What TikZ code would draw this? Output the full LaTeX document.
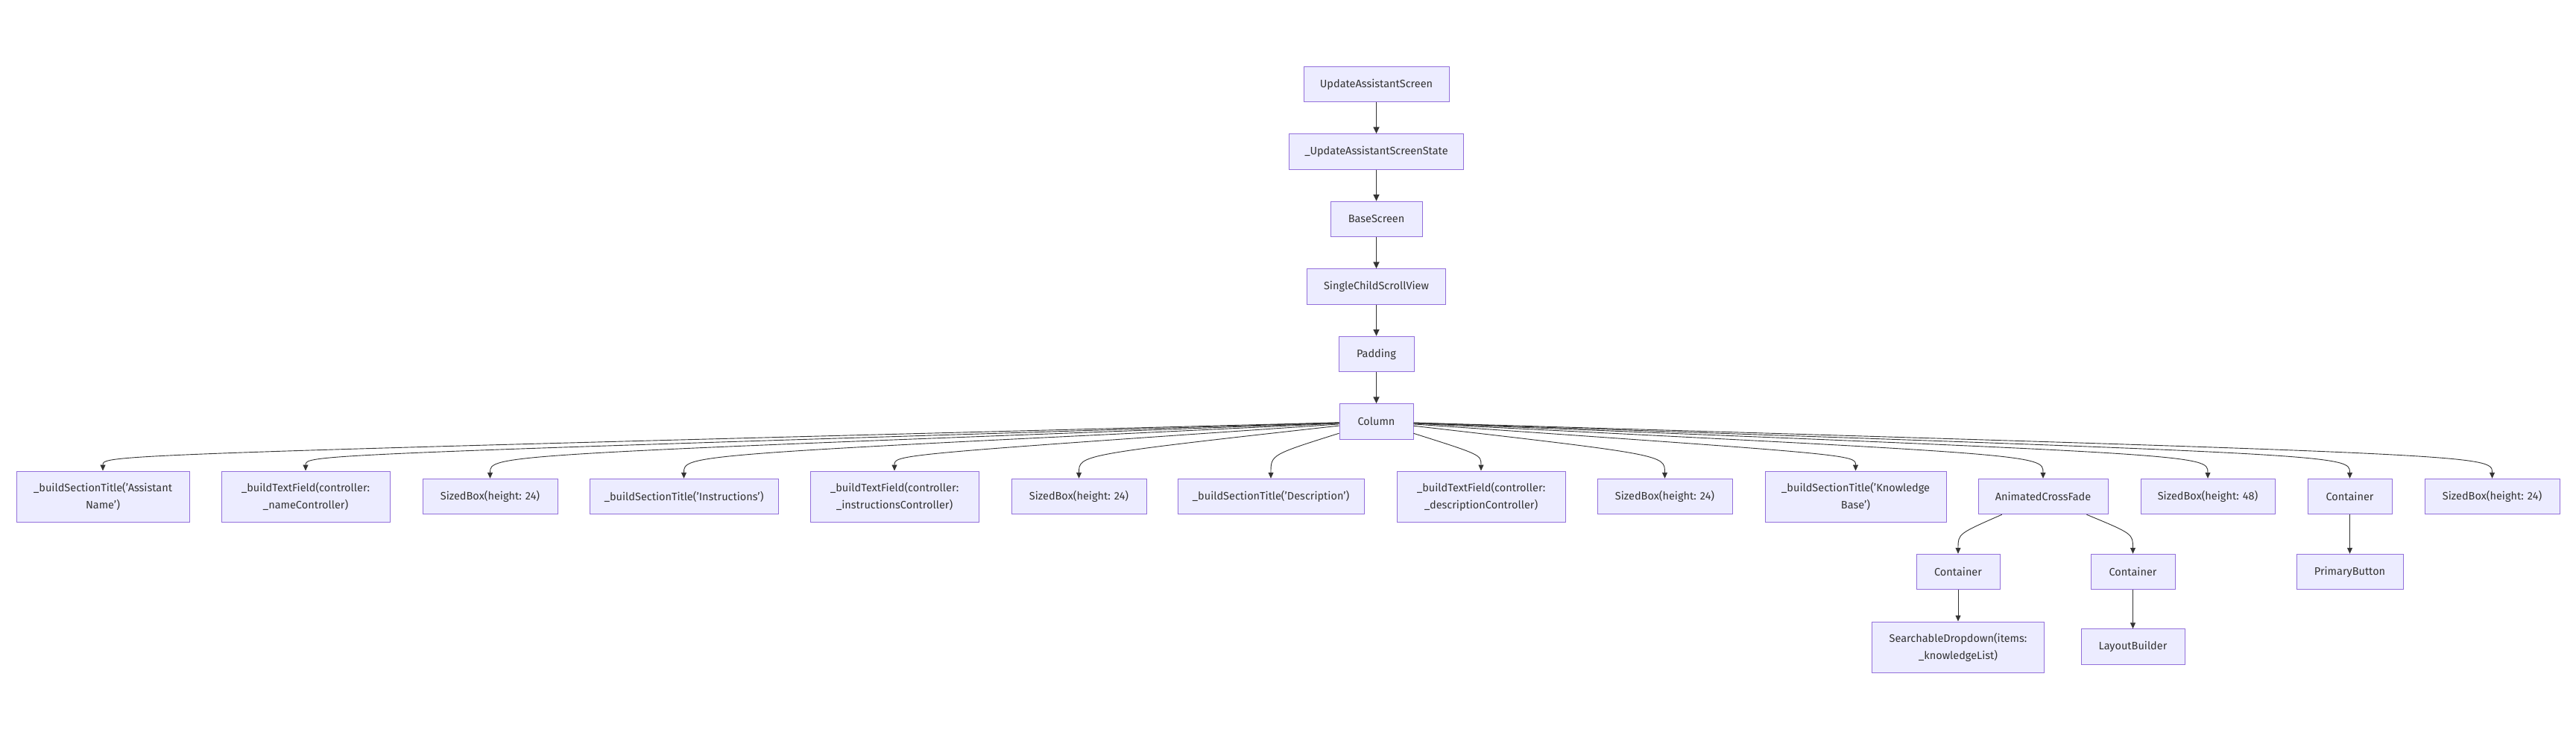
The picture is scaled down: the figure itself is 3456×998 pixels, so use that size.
\documentclass[tikz,border=0pt]{standalone}
\usepackage{fontspec}
\setmainfont{Fira Sans}
\usetikzlibrary{arrows.meta}
\definecolor{boxfill}{HTML}{ECECFF}
\definecolor{boxline}{HTML}{9370DB}
\definecolor{edgeline}{HTML}{333333}
\begin{document}
\begin{tikzpicture}[x=1pt, y=-1pt,
	widget/.style={draw=boxline, fill=boxfill, line width=1pt, inner sep=0pt,
		minimum height=47.5pt, align=center, text=edgeline,
		font=\fontsize{14.5}{23}\selectfont},
	tallwidget/.style={widget, minimum height=68pt},
	link/.style={draw=edgeline, line width=1.8pt, -{Triangle[length=9pt, width=8pt]}},
	branch/.style={draw=edgeline, line width=0.9pt, -{Triangle[length=8pt, width=7pt]}}]
	\useasboundingbox (0, 0) rectangle (3456, 998);
	\node[widget, minimum width=195] at (1846.5, 113) (uas) {UpdateAssistantScreen};
	\node[widget, minimum width=234] at (1846.5, 203.5) (uass) {\_UpdateAssistantScreenState};
	\node[widget, minimum width=123] at (1846.5, 294) (base) {BaseScreen};
	\node[widget, minimum width=186] at (1846.5, 384.5) (scroll) {SingleChildScrollView};
	\node[widget, minimum width=101] at (1846.5, 475) (pad) {Padding};
	\node[widget, minimum width=99] at (1846.5, 565.5) (col) {Column};
	\draw[link] (uas) -- (uass);
	\draw[link] (uass) -- (base);
	\draw[link] (base) -- (scroll);
	\draw[link] (scroll) -- (pad);
	\draw[link] (pad) -- (col);

	\node[tallwidget, minimum width=232] at (138, 666) (titlename) {\_buildSectionTitle('Assistant\\Name')};
	\node[tallwidget, minimum width=226] at (410, 666) (fieldname) {\_buildTextField(controller:\\\_nameController)};
	\node[widget, minimum width=181] at (657.5, 666) (gapa) {SizedBox(height: 24)};
	\node[widget, minimum width=253] at (917.5, 666) (titleinstr) {\_buildSectionTitle('Instructions')};
	\node[tallwidget, minimum width=226] at (1200, 666) (fieldinstr) {\_buildTextField(controller:\\\_instructionsController)};
	\node[widget, minimum width=181] at (1447.5, 666) (gapb) {SizedBox(height: 24)};
	\node[widget, minimum width=250] at (1705, 666) (titledesc) {\_buildSectionTitle('Description')};
	\node[tallwidget, minimum width=226] at (1987, 666) (fielddesc) {\_buildTextField(controller:\\\_descriptionController)};
	\node[widget, minimum width=181] at (2233.5, 666) (gapc) {SizedBox(height: 24)};
	\node[tallwidget, minimum width=243] at (2489.5, 666) (titleknow) {\_buildSectionTitle('Knowledge\\Base')};
	\node[widget, minimum width=174] at (2741, 666) (fade) {AnimatedCrossFade};
	\node[widget, minimum width=180] at (2962, 666) (gapd) {SizedBox(height: 48)};
	\node[widget, minimum width=113] at (3152.5, 666) (btnbox) {Container};
	\node[widget, minimum width=181] at (3343.5, 666) (gape) {SizedBox(height: 24)};

	\coordinate (mid) at (0, 610);
	\draw[branch] (col) .. controls (titlename.north |- mid) .. (titlename.north);
	\draw[branch] (col) .. controls (fieldname.north |- mid) .. (fieldname.north);
	\draw[branch] (col) .. controls (gapa.north |- mid) .. (gapa.north);
	\draw[branch] (col) .. controls (titleinstr.north |- mid) .. (titleinstr.north);
	\draw[branch] (col) .. controls (fieldinstr.north |- mid) .. (fieldinstr.north);
	\draw[branch] (col) .. controls (gapb.north |- mid) .. (gapb.north);
	\draw[branch] (col) .. controls (titledesc.north |- mid) .. (titledesc.north);
	\draw[branch] (col) .. controls (fielddesc.north |- mid) .. (fielddesc.north);
	\draw[branch] (col) .. controls (gapc.north |- mid) .. (gapc.north);
	\draw[branch] (col) .. controls (titleknow.north |- mid) .. (titleknow.north);
	\draw[branch] (col) .. controls (fade.north |- mid) .. (fade.north);
	\draw[branch] (col) .. controls (gapd.north |- mid) .. (gapd.north);
	\draw[branch] (col) .. controls (btnbox.north |- mid) .. (btnbox.north);
	\draw[branch] (col) .. controls (gape.north |- mid) .. (gape.north);

	\node[widget, minimum width=112] at (2627, 767) (dropbox) {Container};
	\node[widget, minimum width=113] at (2861.5, 767) (layoutbox) {Container};
	\node[widget, minimum width=143] at (3152.5, 767) (button) {PrimaryButton};
	\node[tallwidget, minimum width=231] at (2627, 868) (dropdown) {SearchableDropdown(items:\\\_knowledgeList)};
	\node[widget, minimum width=139] at (2861.5, 867.5) (layout) {LayoutBuilder};

	\coordinate (low) at (0, 716);
	\draw[branch] (fade) .. controls (dropbox.north |- low) .. (dropbox.north);
	\draw[branch] (fade) .. controls (layoutbox.north |- low) .. (layoutbox.north);
	\draw[branch] (btnbox) -- (button);
	\draw[branch] (dropbox) -- (dropdown);
	\draw[branch] (layoutbox) -- (layout);
\end{tikzpicture}
\end{document}
